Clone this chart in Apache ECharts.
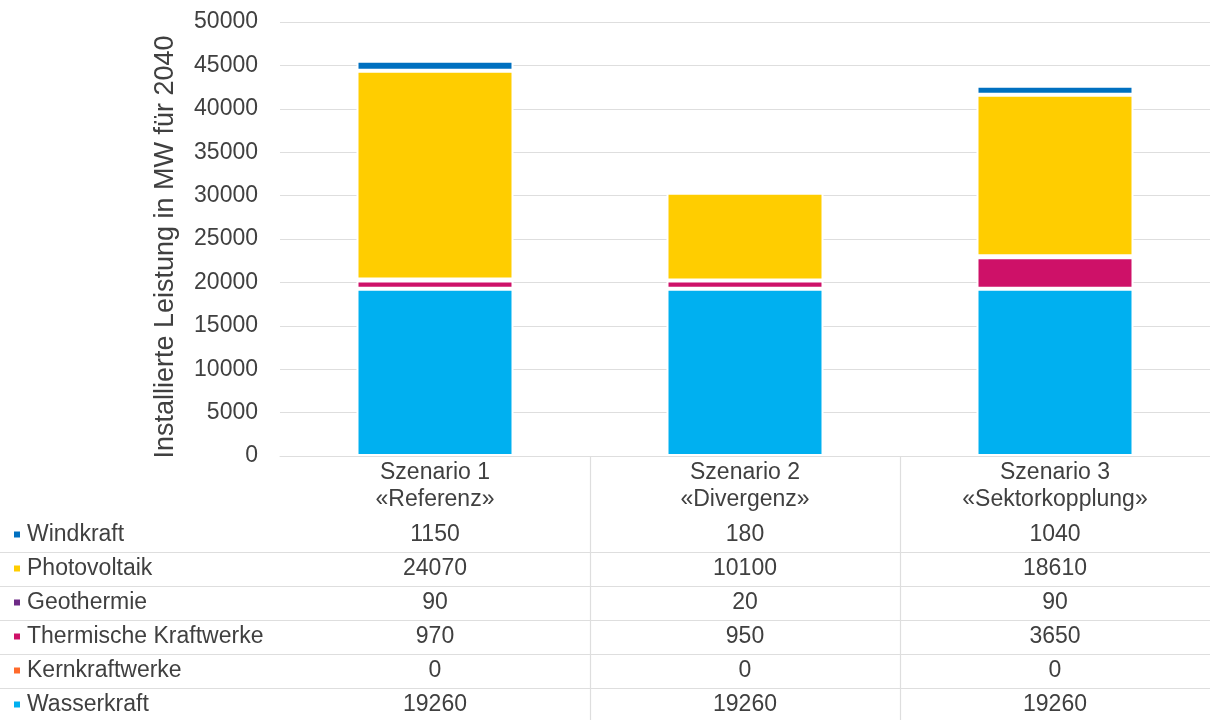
<!DOCTYPE html>
<html lang="de">
<head>
    <meta charset="UTF-8">
    <title>Installierte Leistung 2040</title>
    <script src="https://cdn.jsdelivr.net/npm/echarts@6/dist/echarts.min.js"></script>
    <style>
        html, body { margin: 0; padding: 0; background: #fff; }
        #chart { width: 1210px; height: 720px; }
    </style>
</head>
<body>
<div id="chart"></div>
<script>
    // Szenarien
    var categories = ['Szenario 1\n«Referenz»', 'Szenario 2\n«Divergenz»', 'Szenario 3\n«Sektorkopplung»'];

    // Werte in MW (Tabelle unten im Bild)
    var windkraft = [1150, 180, 1040];
    var photovoltaik = [24070, 10100, 18610];
    var geothermie = [90, 20, 90];
    var thermisch = [970, 950, 3650];
    var kernkraft = [0, 0, 0];
    var wasserkraft = [19260, 19260, 19260];

    var yTicks = { min: 0, max: 50000, interval: 5000 };

    // Reihenfolge im Stapel: von unten nach oben
    var stackOrder = [
        { name: 'Wasserkraft', data: wasserkraft, color: '#00B0F0' },
        { name: 'Kernkraftwerke', data: kernkraft, color: '#FF6A2B' },
        { name: 'Thermische Kraftwerke', data: thermisch, color: '#CE1168' },
        { name: 'Geothermie', data: geothermie, color: '#6E2A86' },
        { name: 'Photovoltaik', data: photovoltaik, color: '#FFCD00' },
        { name: 'Windkraft', data: windkraft, color: '#0070C0' }
    ];
    // Reihenfolge in der Tabelle: von oben nach unten
    var tableOrder = stackOrder.slice().reverse();

    var textColor = '#404040';
    var lineColor = '#dedede';
    var fontFamily = '"Liberation Sans", Arial, sans-serif';
    var fs = 23;

    var gridLeft = 280, gridTop = 22, gridBottomY = 456, rowH = 34, firstRowY = 535;

    var xAxes = [{
        type: 'category',
        gridIndex: 0,
        data: categories,
        position: 'bottom',
        axisLine: { lineStyle: { color: lineColor } },
        axisTick: { show: false },
        axisLabel: {
            color: textColor, fontSize: fs, fontFamily: fontFamily,
            lineHeight: 27, margin: 3
        }
    }];
    tableOrder.forEach(function (s, i) {
        xAxes.push({
            type: 'category',
            gridIndex: 0,
            position: 'bottom',
            offset: firstRowY + i * rowH - gridBottomY,
            data: s.data.map(String),
            axisLine: { show: false },
            axisTick: { show: false },
            splitLine: { show: false },
            axisLabel: {
                color: textColor, fontSize: fs, fontFamily: fontFamily,
                margin: 0, verticalAlign: 'middle', lineHeight: 24
            }
        });
    });

    var series = stackOrder.map(function (s) {
        return {
            name: s.name,
            type: 'bar',
            stack: 'total',
            barWidth: 157,
            data: s.data,
            itemStyle: { color: s.color, borderColor: '#fff', borderWidth: 2 },
            emphasis: { disabled: true }
        };
    });

    // Tabellenlinien
    var graphics = [];
    for (var i = 0; i < 5; i++) {
        var y = firstRowY + i * rowH + 17.5;
        graphics.push({ type: 'line', shape: { x1: 0, y1: y, x2: 1210, y2: y }, style: { stroke: lineColor, lineWidth: 1.2 } });
    }
    [590.5, 900.5].forEach(function (x) {
        graphics.push({ type: 'line', shape: { x1: x, y1: gridBottomY, x2: x, y2: 720 }, style: { stroke: lineColor, lineWidth: 1.2 } });
    });

    var option = {
        animation: false,
        backgroundColor: '#fff',
        textStyle: { fontFamily: fontFamily },
        grid: { left: gridLeft, right: 0, top: gridTop, bottom: 720 - gridBottomY, containLabel: false },
        legend: {
            orient: 'vertical',
            left: 12,
            top: 523,
            padding: 0,
            data: tableOrder.map(function (s) { return s.name; }),
            icon: 'rect',
            itemWidth: 8,
            itemHeight: 8,
            itemGap: 11,
            selectedMode: false,
            textStyle: { color: textColor, fontSize: fs, fontFamily: fontFamily, padding: [0, 0, 0, 1] }
        },
        xAxis: xAxes,
        yAxis: {
            type: 'value',
            min: yTicks.min,
            max: yTicks.max,
            interval: yTicks.interval,
            name: 'Installierte Leistung in MW für 2040',
            nameLocation: 'middle',
            nameGap: 101,
            nameTextStyle: { color: textColor, fontSize: 27, fontFamily: fontFamily, padding: [0, 16, 0, 0] },
            axisLine: { show: false },
            axisTick: { show: false },
            axisLabel: {
                color: textColor, fontSize: fs, fontFamily: fontFamily, margin: 22,
                formatter: function (v) { return String(v); }
            },
            splitLine: { lineStyle: { color: lineColor, width: 1 } }
        },
        series: series,
        graphic: graphics
    };

    var chart = echarts.init(document.getElementById('chart'));
    chart.setOption(option);
</script>
</body>
</html>
